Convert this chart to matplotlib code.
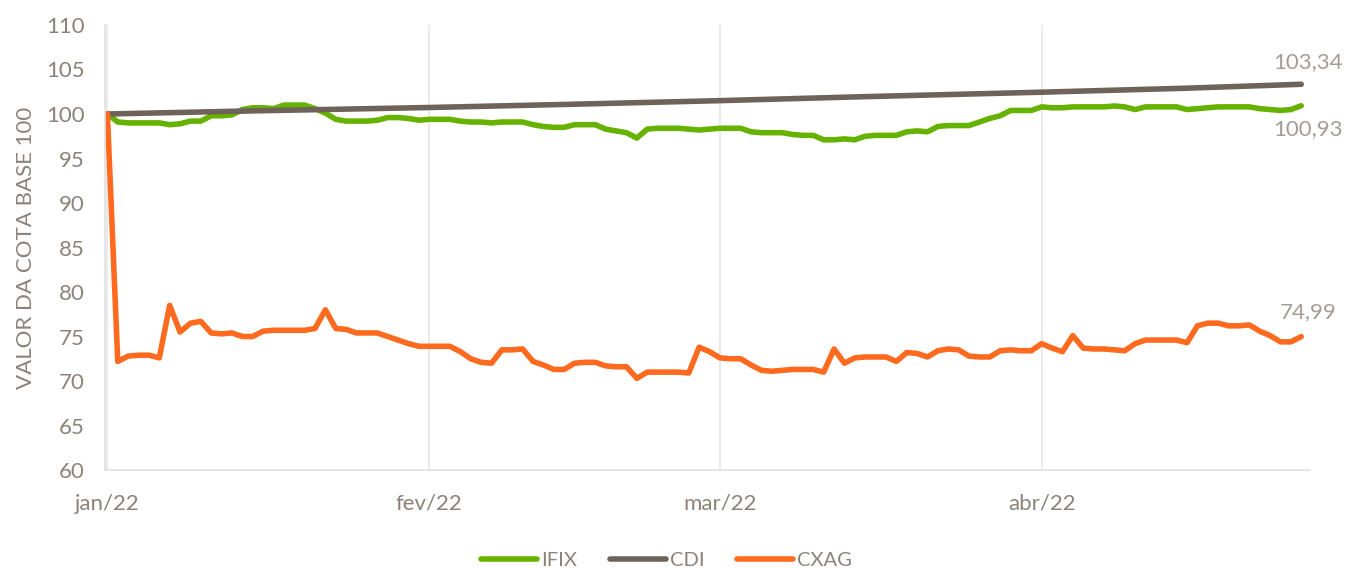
import matplotlib
matplotlib.use("Agg")
import matplotlib.pyplot as plt
import pandas as pd

plt.rcParams['font.family'] = ['Lato', 'DejaVu Sans']

# Série diária (base 100)
datas = pd.date_range("2022-01-01", "2022-04-26", freq="D")

ifix = [100.0, 99.1, 99.0, 99.0, 99.0, 99.0, 98.8, 98.9, 99.2, 99.2,
        99.8, 99.8, 99.9, 100.5, 100.7, 100.7, 100.6, 101.0, 101.0, 101.0,
        100.6, 100.1, 99.4, 99.2, 99.2, 99.2, 99.3, 99.6, 99.6, 99.5,
        99.3, 99.4, 99.4, 99.4, 99.2, 99.1, 99.1, 99.0, 99.1, 99.1,
        99.1, 98.8, 98.6, 98.5, 98.5, 98.8, 98.8, 98.8, 98.3, 98.1,
        97.9, 97.3, 98.3, 98.4, 98.4, 98.4, 98.3, 98.2, 98.3, 98.4,
        98.4, 98.4, 98.0, 97.9, 97.9, 97.9, 97.7, 97.6, 97.6, 97.1,
        97.1, 97.2, 97.1, 97.5, 97.6, 97.6, 97.6, 98.0, 98.1, 98.0,
        98.6, 98.7, 98.7, 98.7, 99.1, 99.5, 99.8, 100.4, 100.4, 100.4,
        100.8, 100.7, 100.7, 100.8, 100.8, 100.8, 100.8, 100.9, 100.8, 100.5,
        100.8, 100.8, 100.8, 100.8, 100.5, 100.6, 100.7, 100.8, 100.8, 100.8,
        100.8, 100.6, 100.5, 100.4, 100.5, 100.93]

cxag = [100.0, 72.2, 72.8, 72.9, 72.9, 72.6, 78.5, 75.5, 76.5, 76.7,
        75.4, 75.3, 75.4, 75.0, 75.0, 75.6, 75.7, 75.7, 75.7, 75.7,
        75.9, 78.0, 75.9, 75.8, 75.4, 75.4, 75.4, 75.0, 74.6, 74.2,
        73.9, 73.9, 73.9, 73.9, 73.3, 72.5, 72.1, 72.0, 73.5, 73.5,
        73.6, 72.2, 71.8, 71.3, 71.3, 72.0, 72.1, 72.1, 71.7, 71.6,
        71.6, 70.3, 71.0, 71.0, 71.0, 71.0, 70.9, 73.8, 73.3, 72.6,
        72.5, 72.5, 71.8, 71.2, 71.1, 71.2, 71.3, 71.3, 71.3, 71.0,
        73.6, 72.0, 72.6, 72.7, 72.7, 72.7, 72.2, 73.2, 73.1, 72.7,
        73.4, 73.6, 73.5, 72.8, 72.7, 72.7, 73.4, 73.5, 73.4, 73.4,
        74.2, 73.7, 73.3, 75.1, 73.7, 73.6, 73.6, 73.5, 73.4, 74.2,
        74.6, 74.6, 74.6, 74.6, 74.3, 76.2, 76.5, 76.5, 76.2, 76.2,
        76.3, 75.6, 75.1, 74.4, 74.4, 74.99]

# CDI: quase linear
cdi_datas = pd.to_datetime(["2022-01-01", "2022-01-15", "2022-02-01", "2022-02-15",
                            "2022-03-01", "2022-03-15", "2022-04-01", "2022-04-15",
                            "2022-04-26"])
cdi = [100.0, 100.35, 100.73, 101.1, 101.5, 101.95, 102.45, 102.9, 103.34]

meses = pd.to_datetime(["2022-01-01", "2022-02-01", "2022-03-01", "2022-04-01"])
rotulos_meses = ["jan/22", "fev/22", "mar/22", "abr/22"]

cor_texto = "#8C8279"
cor_rotulo = "#A59D95"

fig = plt.figure(figsize=(13.49, 5.68), dpi=100)
ax = fig.add_axes([0.078, 0.1725, 0.893, 0.7835])

estilo = dict(lw=4, solid_capstyle="round", solid_joinstyle="round")
ax.plot(datas, ifix, color="#66B200", label="IFIX", **estilo)
ax.plot(cdi_datas, cdi, color="#6E6259", label="CDI", **estilo)
ax.plot(datas, cxag, color="#FF6A1F", label="CXAG", **estilo)

# Rótulos do último valor
for x, y, dy in [(cdi_datas[-1], cdi[-1], 16), (datas[-1], ifix[-1], -17), (datas[-1], cxag[-1], 18)]:
    ax.annotate(f"{y:.2f}".replace(".", ","), (x, y), xytext=(5, dy), textcoords="offset points",
                ha="center", va="center", fontsize=16, color=cor_rotulo,
                annotation_clip=False)

ax.set_ylim(60, 110)
ax.set_yticks(range(60, 111, 5))
ax.set_xlim(pd.Timestamp("2022-01-01") - pd.Timedelta(hours=5), pd.Timestamp("2022-04-26") + pd.Timedelta(hours=20))
ax.set_xticks(meses)
ax.set_xticklabels(rotulos_meses)
ax.grid(axis="x", color="#E6E6E6", lw=1.2)
ax.set_axisbelow(True)

for s in ["top", "right"]:
    ax.spines[s].set_visible(False)
for s in ["left", "bottom"]:
    ax.spines[s].set_color("#E0E0E0")
    ax.spines[s].set_linewidth(1.2)
ax.tick_params(axis="both", length=0, labelsize=16, colors=cor_texto)
ax.tick_params(axis="y", pad=15)
ax.tick_params(axis="x", pad=17)
ax.set_ylabel("VALOR DA COTA BASE 100", fontsize=16, color=cor_texto, labelpad=7)

ax.legend(loc="upper center", bbox_to_anchor=(0.466, -0.143), ncol=3, frameon=False,
          fontsize=14.5, labelcolor=cor_texto, handlelength=2.8, handletextpad=0.2, columnspacing=1.6)

plt.savefig("out.png", dpi=100)
